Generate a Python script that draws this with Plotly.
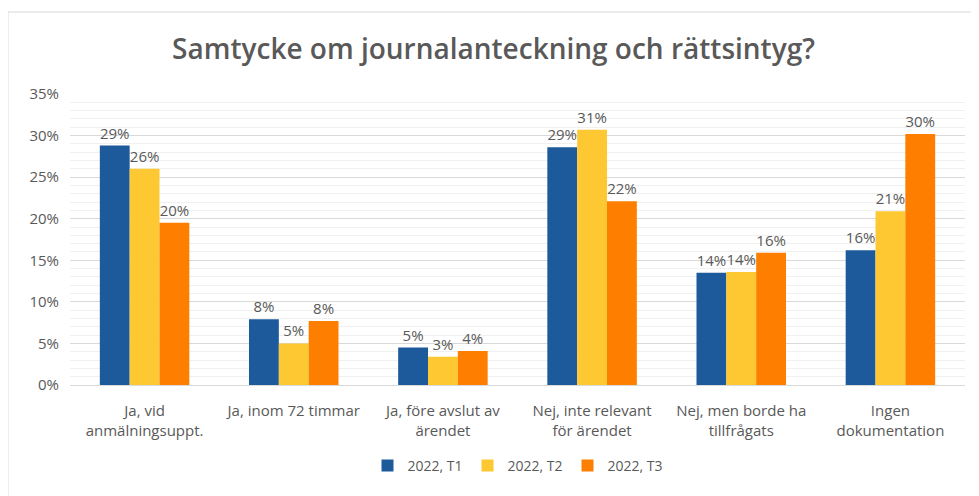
"""Samtycke om journalanteckning och rättsintyg — grupperat stapeldiagram"""

import plotly.graph_objects as go

CATEGORIES = [
    'Ja, vid<br>anmälningsuppt.',
    'Ja, inom 72 timmar',
    'Ja, före avslut av<br>ärendet',
    'Nej, inte relevant<br>för ärendet',
    'Nej, men borde ha<br>tillfrågats',
    'Ingen<br>dokumentation',
]
SERIES = ['2022, T1', '2022, T2', '2022, T3']
T1 = [28.8, 7.9, 4.5, 28.6, 13.5, 16.2]
T2 = [26.0, 5.0, 3.4, 30.7, 13.6, 20.9]
T3 = [19.5, 7.7, 4.1, 22.1, 15.9, 30.2]
Y_TICKS = [0, 5, 10, 15, 20, 25, 30, 35]

COLORS = ['#1c5a9c', '#fec832', '#fe7f00']
FONT = 'Open Sans, sans-serif'
GREY = '#595959'


def pct(v):
    # avrunda halvor uppåt, som i Excel
    return f'{int(v + 0.5)}%'


fig = go.Figure()

for name, values, color in zip(SERIES, [T1, T2, T3], COLORS):
    fig.add_trace(go.Bar(
        x=CATEGORIES,
        y=values,
        name=name,
        marker=dict(color=color, line=dict(width=0)),
        text=[pct(v) for v in values],
        textposition='outside',
        constraintext='none',
        cliponaxis=False,
        textfont=dict(size=15, color=GREY, family=FONT),
    ))

# ram runt diagrammet
fig.add_shape(type='rect', xref='paper', yref='paper',
              x0=-0.0693, x1=1.03, y0=-0.42, y1=1.2818,
              line=dict(color='#d9d9d9', width=1), fillcolor='rgba(0,0,0,0)',
              layer='below')

fig.update_layout(
    title=dict(text='Samtycke om journalanteckning och rättsintyg?',
               x=0.5, xanchor='center', y=0.915, yanchor='middle',
               font=dict(size=28, color=GREY, family=FONT, weight=600)),
    barmode='group',
    bargap=0.4,
    bargroupgap=0,
    xaxis=dict(
        tickfont=dict(size=15, color=GREY, family=FONT),
        showline=True, linecolor='#d9d9d9', linewidth=1,
        ticks='', ticklabelstandoff=12,
    ),
    yaxis=dict(
        range=[0, 35],
        tickvals=Y_TICKS,
        ticktext=[f'{t}%' for t in Y_TICKS],
        tickfont=dict(size=15, color=GREY, family=FONT),
        showgrid=True, gridcolor='#d9d9d9', gridwidth=1,
        minor=dict(dtick=1, showgrid=True, gridcolor='#f0f0f0', gridwidth=1),
        zeroline=False,
        ticklabelstandoff=10,
    ),
    legend=dict(orientation='h', x=0.5, xanchor='center', y=-0.278, yanchor='middle',
                font=dict(size=14, color=GREY, family=FONT),
                itemwidth=30, traceorder='normal'),
    plot_bgcolor='white',
    paper_bgcolor='white',
    margin=dict(l=62, r=14, t=86, b=111),
    width=971,
    height=488,
    font=dict(family=FONT, color=GREY),
)

fig.write_html('out.html')
